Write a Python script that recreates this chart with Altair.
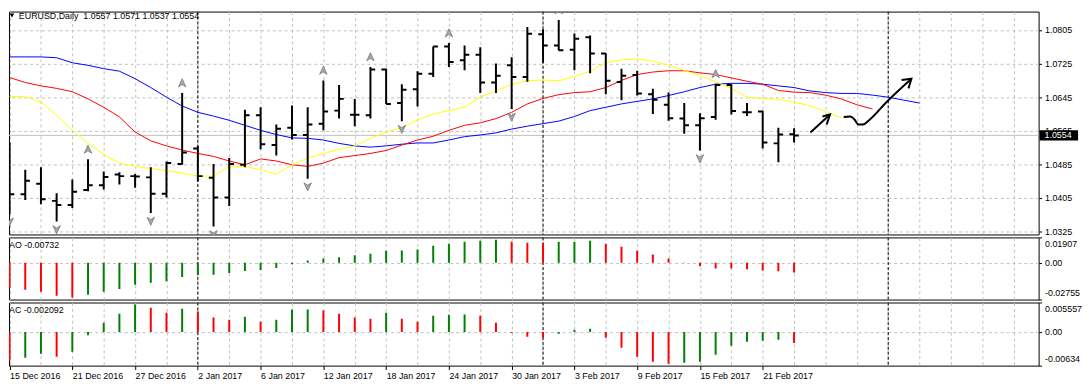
import json
import altair as alt
import pandas as pd

# ---------------- data ----------------
symbol = "EURUSD,Daily"
tick_labels = ["15 Dec 2016", "21 Dec 2016", "27 Dec 2016", "2 Jan 2017", "6 Jan 2017",
               "12 Jan 2017", "18 Jan 2017", "24 Jan 2017", "30 Jan 2017", "3 Feb 2017",
               "9 Feb 2017", "15 Feb 2017", "21 Feb 2017"]
separators = [12, 34, 56]
price_levels = [1.0325, 1.0405, 1.0485, 1.0565, 1.0645, 1.0725, 1.0805]
current_price = 1.0554

opens = [1.0492, 1.0414, 1.0439, 1.0398, 1.0388, 1.0424, 1.0435, 1.0461, 1.0457, 1.0454,
         1.0415, 1.0486, 1.0523, 1.0453, 1.0406, 1.0484, 1.0602, 1.0531, 1.0572, 1.0555,
         1.0582, 1.0613, 1.0603, 1.0602, 1.0711, 1.0631, 1.0664, 1.0701, 1.0766, 1.0733,
         1.0746, 1.0680, 1.0721, 1.0693, 1.0795, 1.0768, 1.0758, 1.0788, 1.0749, 1.0681,
         1.0698, 1.0652, 1.0627, 1.0594, 1.0578, 1.0598, 1.0674, 1.0609, 1.0611, 1.0535,
         1.0557]
highs = [1.0537, 1.0472, 1.0478, 1.0416, 1.0449, 1.0497, 1.0468, 1.0466, 1.0462, 1.0478,
         1.0492, 1.0655, 1.0529, 1.0486, 1.0500, 1.0615, 1.0621, 1.0580, 1.0625, 1.0621,
         1.0685, 1.0674, 1.0641, 1.0717, 1.0713, 1.0676, 1.0707, 1.0766, 1.0774, 1.0768,
         1.0764, 1.0725, 1.0740, 1.0812, 1.0807, 1.0829, 1.0797, 1.0792, 1.0750, 1.0713,
         1.0708, 1.0665, 1.0656, 1.0631, 1.0607, 1.0677, 1.0676, 1.0631, 1.0613, 1.0572,
         1.0571]
lows = [1.0367, 1.0400, 1.0390, 1.0349, 1.0381, 1.0421, 1.0425, 1.0437, 1.0429, 1.0369,
        1.0406, 1.0484, 1.0445, 1.0337, 1.0386, 1.0478, 1.0521, 1.0506, 1.0544, 1.0451,
        1.0566, 1.0594, 1.0576, 1.0594, 1.0629, 1.0588, 1.0623, 1.0693, 1.0717, 1.0709,
        1.0655, 1.0655, 1.0617, 1.0682, 1.0727, 1.0756, 1.0709, 1.0702, 1.0652, 1.0638,
        1.0649, 1.0605, 1.0589, 1.0558, 1.0518, 1.0591, 1.0604, 1.0600, 1.0523, 1.0490,
        1.0537]
closes = [1.0414, 1.0446, 1.0402, 1.0388, 1.0420, 1.0435, 1.0455, 1.0457, 1.0456, 1.0415,
          1.0488, 1.0513, 1.0457, 1.0406, 1.0486, 1.0602, 1.0533, 1.0570, 1.0555, 1.0580,
          1.0611, 1.0641, 1.0603, 1.0711, 1.0629, 1.0663, 1.0701, 1.0766, 1.0729, 1.0746,
          1.0680, 1.0696, 1.0693, 1.0796, 1.0768, 1.0757, 1.0784, 1.0749, 1.0684, 1.0696,
          1.0654, 1.0639, 1.0595, 1.0578, 1.0595, 1.0674, 1.0612, 1.0609, 1.0537, 1.0556,
          1.0554]

jaw = [1.0741, 1.0741, 1.0741, 1.0739, 1.0727, 1.0721, 1.0713, 1.0707, 1.0689, 1.0668,
       1.0645, 1.0624, 1.0609, 1.0600, 1.0590, 1.0578, 1.0566, 1.0556, 1.0548, 1.0547,
       1.0543, 1.0535, 1.0529, 1.0526, 1.0529, 1.0533, 1.0536, 1.0536, 1.0543, 1.0551,
       1.0555, 1.0560, 1.0569, 1.0576, 1.0582, 1.0588, 1.0599, 1.0613, 1.0621, 1.0629,
       1.0635, 1.0641, 1.0649, 1.0658, 1.0668, 1.0676, 1.0678, 1.0678, 1.0676, 1.0672,
       1.0668, 1.0660, 1.0656, 1.0654, 1.0654, 1.0650, 1.0645, 1.0638, 1.0631]
teeth = [1.0692, 1.0680, 1.0672, 1.0666, 1.0658, 1.0641, 1.0621, 1.0598, 1.0562, 1.0541,
         1.0529, 1.0519, 1.0511, 1.0504, 1.0493, 1.0484, 1.0498, 1.0493, 1.0484, 1.0480,
         1.0488, 1.0501, 1.0506, 1.0511, 1.0518, 1.0531, 1.0543, 1.0552, 1.0566, 1.0578,
         1.0584, 1.0594, 1.0609, 1.0629, 1.0642, 1.0651, 1.0656, 1.0658, 1.0668, 1.0685,
         1.0699, 1.0705, 1.0708, 1.0708, 1.0703, 1.0699, 1.0691, 1.0683, 1.0676, 1.0661,
         1.0657, 1.0656, 1.0650, 1.0641, 1.0627, 1.0617]
lips = [1.0647, 1.0646, 1.0633, 1.0602, 1.0566, 1.0535, 1.0509, 1.0488, 1.0480, 1.0475,
        1.0470, 1.0464, 1.0457, 1.0457, 1.0480, 1.0480, 1.0472, 1.0462, 1.0484, 1.0500,
        1.0511, 1.0521, 1.0529, 1.0547, 1.0562, 1.0572, 1.0591, 1.0605, 1.0613, 1.0621,
        1.0645, 1.0660, 1.0676, 1.0684, 1.0686, 1.0684, 1.0694, 1.0707, 1.0727, 1.0734,
        1.0736, 1.0731, 1.0721, 1.0709, 1.0696, 1.0682, 1.0666, 1.0645, 1.0642, 1.0640,
        1.0633, 1.0625, 1.0611, 1.0596]

fractal_up = [5, 11, 20, 23, 28, 35, 45]
fractal_down = [0, 3, 9, 13, 19, 25, 32, 44]

ao = [-0.0185, -0.0202, -0.0217, -0.0247, -0.0261, -0.0239, -0.0217, -0.0197, -0.0165, -0.0150,
      -0.0138, -0.0106, -0.0091, -0.0089, -0.0076, -0.0062, -0.0054, -0.0039, -0.0010, 0.0017,
      0.0032, 0.0042, 0.0057, 0.0069, 0.0091, 0.0093, 0.0101, 0.0128, 0.0143, 0.0158,
      0.0165, 0.0173, 0.0158, 0.0150, 0.0149, 0.0158, 0.0159, 0.0165, 0.0143, 0.0121,
      0.0091, 0.0062, 0.0032, 0.0003, -0.0025, -0.0042, -0.0043, -0.0049, -0.0057, -0.0064,
      -0.00732]
ao_colors = "rrrrr" + "g" * 27 + "rrr" + "ggg" + "r" * 13
ac = [-0.00535, -0.00485, -0.0041, -0.00466, -0.00371, -0.00063, 0.00176, 0.00346, 0.00516, 0.00459,
      0.00365, 0.0044, 0.00384, 0.00271, 0.00233, 0.00289, 0.00195, 0.00233, 0.00422, 0.00424,
      0.00403, 0.00346, 0.00271, 0.00252, 0.00365, 0.00252, 0.00195, 0.00308, 0.00327, 0.0033,
      0.00308, 0.00176, -0.00019, -0.00088, -0.00107, -0.00031, 0.00044, 0.00063, -0.00107, -0.00296,
      -0.00466, -0.0056, -0.00598, -0.00579, -0.0056, -0.00428, -0.00258, -0.00183, -0.00164, -0.00145,
      -0.002092]
ac_colors = "rggrgggggr" + "rgrrrgrggg" + "rrrrgrrggg" + "rrrrrgggrr" + "rrrggggggg" + "r"
ao_range = [-0.02755, 0.01907]
ac_range = [-0.00634, 0.005557]

# hand-drawn arrows on the chart (bar index, price)
arrow_shaft_x = [51.04, 52.29]
arrow_shaft_y = [1.0561, 1.0604]
arrow_head_x = [51.81, 52.29, 52.08]
arrow_head_y = [1.0599, 1.0604, 1.0580]
curve_x = [53.16, 53.58, 53.85, 54.10, 54.38, 54.83, 55.88, 57.48]
curve_y = [1.0598, 1.0599, 1.0592, 1.0580, 1.0580, 1.0592, 1.0633, 1.0689]
curve_head_x = [56.85, 57.48, 57.29]
curve_head_y = [1.0686, 1.0689, 1.0666]

# ---------------- styling / layout ----------------
FONT = "Liberation Sans"
GRID = "#c0c0c0"
RED = "#ff0000"
GREEN = "#008000"
W = 1044
MAIN_H = 226
AO_H = 63
AC_H = 64
X_DOMAIN = [-0.03714, 65.5858]
MAIN_DOMAIN = [1.0318, 1.0849]
UP_PATH = "M0,-1L0.85,0.85L0,0.3L-0.85,0.85Z"
DOWN_PATH = "M0,1L0.85,-0.85L0,-0.3L-0.85,-0.85Z"

n = len(closes)
bars = pd.DataFrame({"i": list(range(n)), "open": opens, "high": highs,
                     "low": lows, "close": closes})
lines = pd.concat([
    pd.DataFrame({"i": list(range(len(jaw))), "v": jaw, "name": "jaw", "c": "#0000ff"}),
    pd.DataFrame({"i": list(range(len(teeth))), "v": teeth, "name": "teeth", "c": "#ff0000"}),
    pd.DataFrame({"i": list(range(len(lips))), "v": lips, "name": "lips", "c": "#ffff00"}),
])
sep_df = pd.DataFrame({"s": separators})
up_df = bars[bars["i"].isin(fractal_up)]
down_df = bars[bars["i"].isin(fractal_down)]
draw_df = pd.concat([
    pd.DataFrame({"x": arrow_shaft_x, "y": arrow_shaft_y, "seg": "a", "k": [0, 1]}),
    pd.DataFrame({"x": arrow_head_x, "y": arrow_head_y, "seg": "b", "k": [0, 1, 2]}),
    pd.DataFrame({"x": curve_head_x, "y": curve_head_y, "seg": "c", "k": [0, 1, 2]}),
])
curve_df = pd.DataFrame({"x": curve_x, "y": curve_y})
ao_df = pd.DataFrame({"i": list(range(len(ao))), "v": ao, "base": 0.0,
                      "col": [GREEN if c == "g" else RED for c in ao_colors]})
ac_df = pd.DataFrame({"i": list(range(len(ac))), "v": ac, "base": 0.0,
                      "col": [GREEN if c == "g" else RED for c in ac_colors]})

xscale = alt.Scale(domain=X_DOMAIN, nice=False, zero=False)
grid_vals = list(range(0, 66, 2))
x_axis_plain = alt.Axis(values=grid_vals, grid=True, gridColor=GRID, gridDash=[3, 3],
                        labels=False, ticks=False, domain=False, title=None)
label_test = "datum.value % 4 == 0 && datum.value <= 48"
x_axis_labels = alt.Axis(values=grid_vals, grid=True, gridColor=GRID, gridDash=[3, 3],
                         labels=True, domain=False, title=None,
                         labelExpr=f"{label_test} ? {json.dumps(tick_labels)}[datum.value / 4] : ''",
                         labelAlign="left", labelPadding=2, labelOverlap=False,
                         labelFlush=False, tickSize=4, tickColor="black",
                         tickOpacity={"condition": {"test": label_test, "value": 1}, "value": 0})

y_main_axis = alt.Axis(orient="right", values=price_levels, format=".4f", grid=True,
                       gridColor=GRID, gridDash=[3, 3], domain=False, tickSize=3,
                       labelPadding=3, title=None)
y_main_scale = alt.Scale(domain=MAIN_DOMAIN, nice=False, zero=False)


def sub_axis():
    return alt.Axis(orient="right", grid=True, gridColor=GRID, gridDash=[3, 3],
                    gridOpacity={"condition": {"test": "datum.value == 0", "value": 1}, "value": 0},
                    labelExpr="datum.value == 0 ? '0.00' : toString(datum.value)",
                    labelFlush=True, labelFlushOffset=-2, domain=False, tickSize=3,
                    labelPadding=3, title=None)


def X(field, axis):
    return alt.X(field, type="quantitative", scale=xscale, axis=axis)


def YM(field):
    return alt.Y(field, type="quantitative", scale=y_main_scale, axis=y_main_axis)


# ---------------- main price panel ----------------
xa = x_axis_plain
price_line = alt.Chart(pd.DataFrame({"p": [current_price]})).mark_rule(
    color=GRID, strokeWidth=1).encode(y=YM("p"))
sep_main = alt.Chart(sep_df).mark_rule(color="black", strokeDash=[3, 2], strokeWidth=1).encode(
    x=X("s", xa))
alligator = alt.Chart(lines).mark_line(strokeWidth=1, clip=True).encode(
    x=X("i", xa), y=YM("v"), color=alt.Color("c:N", scale=None), detail="name:N")
hl = alt.Chart(bars).mark_rule(color="black", strokeWidth=2, clip=True).encode(
    x=X("i", xa), y=YM("low"), y2="high")
open_tick = alt.Chart(bars).transform_calculate(ol="datum.i - 0.3").mark_rule(
    color="black", strokeWidth=2, clip=True).encode(x=X("ol", xa), x2="i", y=YM("open"))
close_tick = alt.Chart(bars).transform_calculate(cr="datum.i + 0.3").mark_rule(
    color="black", strokeWidth=2, clip=True).encode(x=X("i", xa), x2="cr", y=YM("close"))
frac_up = alt.Chart(up_df).mark_point(shape=UP_PATH, filled=True, size=80, color="#a8a8a8",
                                      stroke="#6e6e6e", strokeWidth=0.7, opacity=1,
                                      yOffset=-10, clip=True).encode(x=X("i", xa), y=YM("high"))
frac_down = alt.Chart(down_df).mark_point(shape=DOWN_PATH, filled=True, size=80, color="#a8a8a8",
                                          stroke="#6e6e6e", strokeWidth=0.7, opacity=1,
                                          yOffset=8, clip=True).encode(x=X("i", xa), y=YM("low"))
drawn = alt.Chart(draw_df).mark_line(color="black", strokeWidth=2, clip=True).encode(
    x=X("x", xa), y=YM("y"), detail="seg:N", order="k:Q")
curve = alt.Chart(curve_df).mark_line(color="black", strokeWidth=2, interpolate="monotone",
                                      clip=True).encode(x=X("x", xa), y=YM("y"))
header_tri = alt.Chart(pd.DataFrame({"a": [0]})).mark_point(
    shape="triangle-down", filled=True, color="black", size=22, opacity=1).encode(
    x=alt.value(3), y=alt.value(4))
header_txt = alt.Chart(pd.DataFrame({
    "t": [f"{symbol}\u00a0 {opens[-1]:.4f} {highs[-1]:.4f} {lows[-1]:.4f} {closes[-1]:.4f}"]})).mark_text(
    align="left", baseline="middle", font=FONT, fontSize=9, color="black").encode(
    x=alt.value(10), y=alt.value(4.5), text="t:N")
box = alt.Chart(pd.DataFrame({"p": [current_price]})).transform_calculate(
    lo="datum.p - 0.0012", hi="datum.p + 0.0012").mark_rect(color="black", clip=False).encode(
    x=alt.value(W + 1), x2=alt.value(W + 40), y=YM("lo"), y2="hi")
box_txt = alt.Chart(pd.DataFrame({"p": [current_price]})).mark_text(
    align="left", baseline="middle", font=FONT, fontSize=9, color="white").encode(
    x=alt.value(W + 6), y=YM("p"), text=alt.Text("p:Q", format=".4f"))

main = alt.layer(price_line, sep_main, alligator, hl, open_tick, close_tick, frac_up, frac_down,
                 drawn, curve, header_tri, header_txt, box, box_txt).properties(
    width=W, height=MAIN_H)


# ---------------- oscillator panels ----------------
def osc_panel(df, rng, label, height, xaxis):
    yaxis = sub_axis()
    yaxis.values = [rng[0], 0, rng[1]]
    ys = alt.Scale(domain=rng, nice=False, zero=False)

    def Y(field):
        return alt.Y(field, type="quantitative", scale=ys, axis=yaxis)

    sep = alt.Chart(sep_df).mark_rule(color="black", strokeDash=[3, 2], strokeWidth=1).encode(
        x=X("s", xaxis))
    hist = alt.Chart(df).mark_rule(strokeWidth=2, clip=True).encode(
        x=X("i", xaxis), y=Y("base"), y2="v", color=alt.Color("col:N", scale=None))
    txt = alt.Chart(pd.DataFrame({"t": [label]})).mark_text(
        align="left", baseline="middle", font=FONT, fontSize=9, color="black").encode(
        x=alt.value(0), y=alt.value(8), text="t:N")
    return alt.layer(sep, hist, txt).properties(width=W, height=height)


ao_panel = osc_panel(ao_df, ao_range, f"AO {ao[-1]}", AO_H, x_axis_plain)
ac_panel = osc_panel(ac_df, ac_range, f"AC {ac[-1]}", AC_H, x_axis_labels)

chart = alt.vconcat(main, ao_panel, ac_panel, spacing=3, bounds="flush").properties(
    padding=0, background="white"
).configure_view(stroke="black", strokeWidth=1).configure_axis(
    labelFont=FONT, labelFontSize=9, labelColor="black", tickColor="black"
)

chart.save("out.html", embed_options={"renderer": "svg", "actions": False})
